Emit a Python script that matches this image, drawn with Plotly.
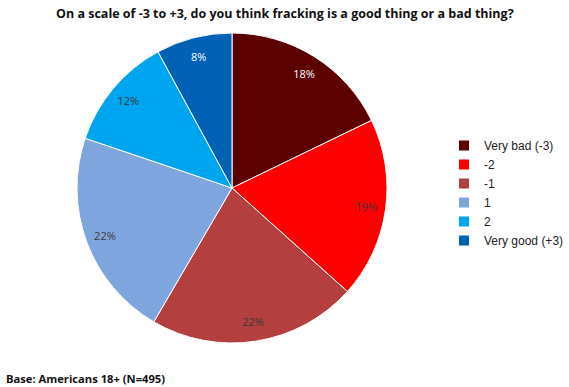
import plotly.graph_objects as go

labels = ["Very bad (-3)", "-2", "-1", "1", "2", "Very good (+3)"]
values = [18, 19, 22, 22, 12, 8]
colors = ["#5C0000", "#FF0000", "#B3403F", "#7FA5DE", "#00A5EF", "#0061B5"]
text_colors = ["#FFFFFF", "#3A3A3A", "#3A3A3A", "#3A3A3A", "#3A3A3A", "#FFFFFF"]
pct_text = [f"{v}%" for v in values]

W, H = 569, 387
dom = dict(x=[77 / W, 387 / W], y=[(H - 343) / H, (H - 33) / H])
fig = go.Figure()
fig.add_trace(go.Pie(
    labels=labels, values=values, textinfo="none",
    sort=False, direction="clockwise", rotation=0,
    marker=dict(colors=colors, line=dict(color="#FFFFFF", width=1)),
    domain=dom, hoverinfo="label+percent",
))
# transparent ring to place the percentage labels near the rim
fig.add_trace(go.Pie(
    labels=labels, values=values, text=pct_text, textinfo="text",
    sort=False, direction="clockwise", rotation=0, hole=0.75,
    marker=dict(colors=["rgba(0,0,0,0)"] * len(values), line=dict(width=0)),
    textposition="inside", insidetextorientation="horizontal",
    insidetextfont=dict(color=text_colors, size=11, family="Open Sans, sans-serif"),
    domain=dom, showlegend=False, hoverinfo="skip",
))
fig.update_layout(
    width=W, height=H, margin=dict(l=0, r=0, t=0, b=0),
    paper_bgcolor="white", plot_bgcolor="white",
    font=dict(family="Open Sans, sans-serif", size=11, color="#222222"),
    legend=dict(x=1, y=(H - 131) / H, xanchor="right", yanchor="top",
                font=dict(size=12, color="#222222", family="Liberation Sans, Arial, sans-serif"),
                itemsizing="constant", itemwidth=30),
    annotations=[
        dict(text="<b>On a scale of -3 to +3, do you think fracking is a good thing or a bad thing?</b>",
             x=0.5, y=1 - 13 / H, xref="paper", yref="paper", showarrow=False,
             xanchor="center", yanchor="middle", font=dict(size=12.5, color="#111111")),
        dict(text="<b>Base: Americans 18+ (N=495)</b>", x=4 / W, y=1 - 378 / H,
             xref="paper", yref="paper", showarrow=False, xanchor="left", yanchor="middle",
             font=dict(size=11.2, color="#111111")),
    ],
)
fig.write_html("out.html", config={"displayModeBar": False})
with open("out.html", encoding="utf-8") as f:
    html = f.read()
html = html.replace("<body>", '<body style="margin:0;padding:0;overflow:hidden">', 1)
with open("out.html", "w", encoding="utf-8") as f:
    f.write(html)
